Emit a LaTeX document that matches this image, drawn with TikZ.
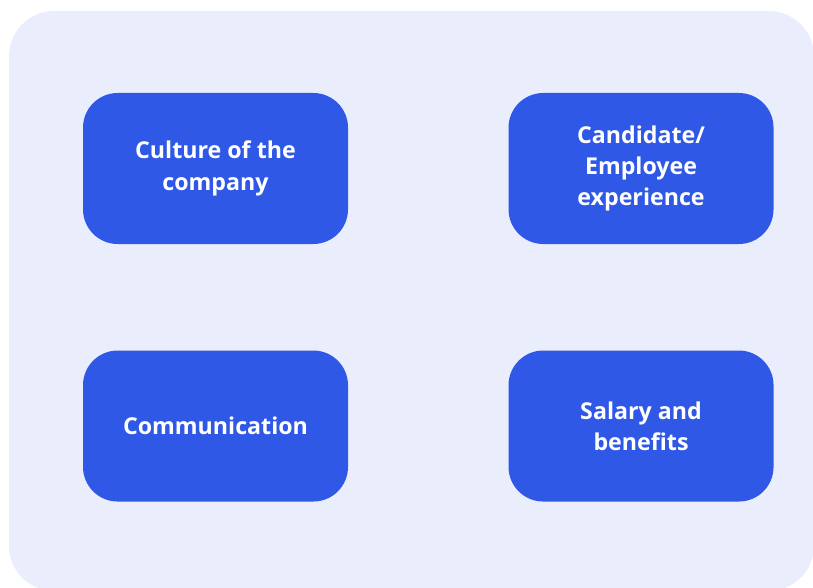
\documentclass[tikz,border=0pt]{standalone}
\usepackage{fontspec}
\setmainfont{Open Sans}
\usetikzlibrary{positioning}
\definecolor{boxblue}{HTML}{3058E6}
\definecolor{panel}{HTML}{E9EDFC}

\begin{document}
\begin{tikzpicture}[x=0.75pt,y=-0.75pt,node distance=79.5pt and 120pt,
box/.style={fill=boxblue,rounded corners=26pt,minimum width=198.75pt,minimum height=113.25pt,align=center,text=white,font=\bfseries\fontsize{17.4}{23.5}\selectfont,inner sep=0pt}]
\useasboundingbox (0,0) rectangle (813,588);
% light panel behind the four boxes
\fill[panel,rounded corners=34pt] (9,11) rectangle (814,591);
\node[box] (culture) at (215.5,168.5) {Culture of the\\company};
\node[box,right=of culture] (experience) {Candidate/\\Employee\\experience};
\node[box,below=of culture] (comm) {Communication};
\node[box,below=of experience] (salary) {Salary and\\benefits};
\end{tikzpicture}
\end{document}
